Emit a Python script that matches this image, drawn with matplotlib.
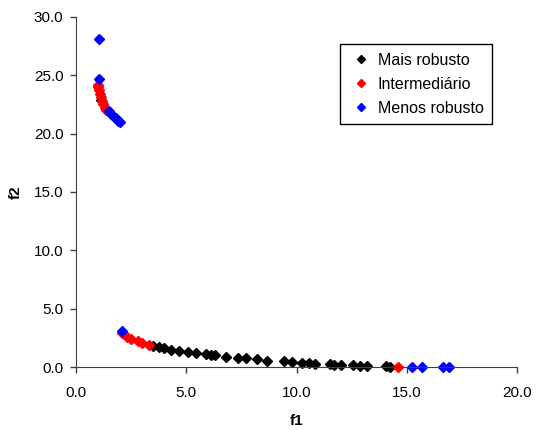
import matplotlib
matplotlib.use("Agg")
import matplotlib.pyplot as plt

plt.rcParams['font.family'] = ['Liberation Sans', 'DejaVu Sans']

# Mais robusto (black)
mais_f1 = [1.15, 3.5, 3.75, 4.0, 4.3, 4.65, 5.1, 5.45, 5.9, 6.1, 6.3, 6.8,
           7.35, 7.7, 8.2, 8.65, 9.45, 9.8, 10.25, 10.55, 10.85, 11.5,
           11.7, 12.0, 12.55, 12.9, 13.2, 14.05, 14.25]
mais_f2 = [22.9, 1.8, 1.7, 1.6, 1.5, 1.4, 1.3, 1.2, 1.1, 1.05, 1.0, 0.9,
           0.8, 0.75, 0.65, 0.55, 0.5, 0.45, 0.38, 0.33, 0.3, 0.25,
           0.2, 0.17, 0.13, 0.1, 0.08, 0.05, 0.03]

# Intermediario (red)
inter_f1 = [1.0, 1.02, 1.05, 1.08, 1.12, 1.17, 1.22, 1.3, 1.38,
            2.1, 2.3, 2.5, 2.8, 3.0, 3.3, 14.6]
inter_f2 = [24.2, 24.0, 23.7, 23.4, 23.1, 22.8, 22.5, 22.2, 22.0,
            2.9, 2.6, 2.4, 2.2, 2.1, 1.9, 0.02]

# Menos robusto (blue)
menos_f1 = [1.04, 1.04, 1.5, 1.6, 1.7, 1.8, 1.9, 2.0, 2.1,
            15.25, 15.7, 16.65, 16.9]
menos_f2 = [28.1, 24.7, 21.9, 21.7, 21.5, 21.3, 21.1, 21.0, 3.1,
            0.02, 0.01, 0.0, 0.0]

fig = plt.figure(figsize=(5.37, 4.30), dpi=100)
ax = fig.add_axes([0.1415, 0.1465, 0.8213, 0.814])

ms = 5
ax.plot(mais_f1, mais_f2, 'D', color='black', markersize=ms, linestyle='none',
        label='Mais robusto', clip_on=False)
ax.plot(inter_f1, inter_f2, 'D', color='red', markersize=ms, linestyle='none',
        label='Intermediário', clip_on=False)
ax.plot(menos_f1, menos_f2, 'D', color='blue', markersize=ms, linestyle='none',
        label='Menos robusto', clip_on=False)

ax.set_xlim(0, 20)
ax.set_ylim(0, 30)
ax.set_xticks([0, 5, 10, 15, 20])
ax.set_yticks([0, 5, 10, 15, 20, 25, 30])
ax.set_xticklabels(['%.1f' % v for v in [0, 5, 10, 15, 20]])
ax.set_yticklabels(['%.1f' % v for v in [0, 5, 10, 15, 20, 25, 30]])
ax.tick_params(direction='out', length=4, width=1, labelsize=11,
               color='#404040', labelcolor='black')
ax.tick_params(axis='x', pad=10)
ax.tick_params(axis='y', pad=5)
ax.spines['top'].set_visible(False)
ax.spines['right'].set_visible(False)
for s in ['left', 'bottom']:
    ax.spines[s].set_color('#404040')

ax.set_xlabel('f1', fontsize=11, fontweight='bold', labelpad=10)
ax.set_ylabel('f2', fontsize=11, fontweight='bold', labelpad=8)

leg = ax.legend(loc='upper left', bbox_to_anchor=(0.599, 0.923), fontsize=11.5,
                frameon=True, fancybox=False, edgecolor='black', markerscale=0.75,
                handlelength=1.5, handletextpad=0.3, borderpad=0.55,
                labelspacing=0.56, borderaxespad=0, framealpha=1)
leg.get_frame().set_linewidth(1)

fig.savefig('out.png', dpi=100)
